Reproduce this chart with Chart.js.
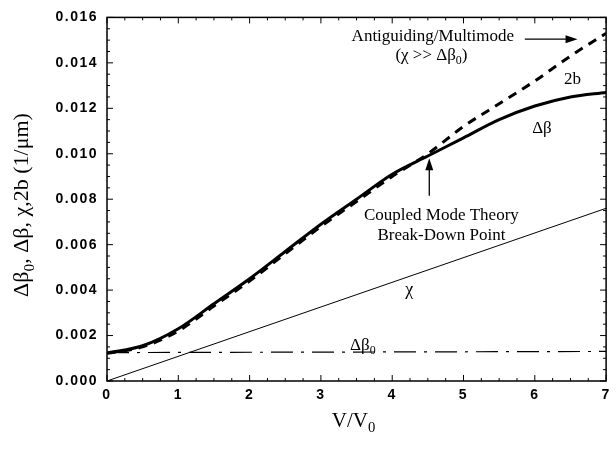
<!DOCTYPE html>
<html>
<head>
<meta charset="utf-8">
<script src="https://cdn.jsdelivr.net/npm/chart.js@4.4.0/dist/chart.umd.min.js"></script>
<style>
  html, body { margin: 0; padding: 0; background: #fff; }
  #wrap { width: 616px; height: 449px; }
</style>
</head>
<body>
<div id="wrap"><canvas id="chart" width="616" height="449"></canvas></div>
<script>
// values
const xValues = [0, 0.5, 1, 1.5, 2, 2.5, 3, 3.5, 4, 4.5, 5, 5.5, 6, 6.5, 7];
const deltaBeta = [0.00123, 0.00155, 0.0023, 0.0034, 0.0045, 0.0057, 0.0069, 0.0080, 0.0091, 0.0099, 0.0107, 0.0115, 0.0121, 0.0125, 0.0127];
const twoB = [0.00122, 0.0015, 0.0022, 0.0033, 0.0044, 0.0056, 0.0068, 0.0079, 0.0090, 0.01, 0.0112, 0.0122, 0.0132, 0.0143, 0.0153];
const chiX = [0, 7];
const chi = [0, 0.0076];
const deltaBeta0X = [0, 7];
const deltaBeta0 = [0.00125, 0.0013];

const xTicks = [0, 1, 2, 3, 4, 5, 6, 7];
const yTicks = [0, 0.002, 0.004, 0.006, 0.008, 0.010, 0.012, 0.014, 0.016];

const toPoints = (xs, ys) => xs.map((x, i) => ({ x: x, y: ys[i] }));

const SERIF = '"Liberation Serif", "Times New Roman", serif';
const SANS = '"Liberation Sans", Arial, sans-serif';

// draw text with a subscript part: parts = [[text, isSub], ...]
function drawRich(ctx, parts, x, y, size, align) {
  ctx.save();
  ctx.textBaseline = 'middle';
  ctx.textAlign = 'left';
  let total = 0;
  parts.forEach(([t, sub]) => {
    ctx.font = (sub ? size * 0.7 : size) + 'px ' + SERIF;
    total += ctx.measureText(t).width;
  });
  let cx = align === 'center' ? x - total / 2 : (align === 'right' ? x - total : x);
  parts.forEach(([t, sub]) => {
    ctx.font = (sub ? size * 0.7 : size) + 'px ' + SERIF;
    ctx.fillText(t, cx, sub ? y + size * 0.35 : y);
    cx += ctx.measureText(t).width;
  });
  ctx.restore();
}

function arrow(ctx, x1, y1, x2, y2) {
  const a = Math.atan2(y2 - y1, x2 - x1);
  ctx.save();
  ctx.strokeStyle = '#000';
  ctx.fillStyle = '#000';
  ctx.lineWidth = 1.3;
  ctx.beginPath();
  ctx.moveTo(x1, y1);
  ctx.lineTo(x2 - 8 * Math.cos(a), y2 - 8 * Math.sin(a));
  ctx.stroke();
  ctx.beginPath();
  ctx.moveTo(x2, y2);
  ctx.lineTo(x2 - 12 * Math.cos(a) + 4 * Math.sin(a), y2 - 12 * Math.sin(a) - 4 * Math.cos(a));
  ctx.lineTo(x2 - 12 * Math.cos(a) - 4 * Math.sin(a), y2 - 12 * Math.sin(a) + 4 * Math.cos(a));
  ctx.closePath();
  ctx.fill();
  ctx.restore();
}

const framePlugin = {
  id: 'frame',
  beforeDraw(chart) {
    // the tick labels in the original are widely tracked
    chart.ctx.letterSpacing = '1.5px';
  },
  beforeDatasetsDraw(chart) {
    chart.ctx.letterSpacing = '0px';
  },
  afterDraw(chart) {
    const { ctx, chartArea: a, scales } = chart;
    const xs = scales.x, ys = scales.y;
    ctx.letterSpacing = '0px';
    ctx.save();
    ctx.strokeStyle = '#000';
    ctx.lineWidth = 1.5;
    ctx.strokeRect(a.left, a.top, a.right - a.left, a.bottom - a.top);

    // inward ticks on all four sides
    ctx.lineWidth = 1;
    ctx.beginPath();
    for (let v = 0; v <= 7.0001; v += 0.25) {
      const px = xs.getPixelForValue(v);
      const len = Math.abs(v - Math.round(v)) < 1e-6 ? 6 : 3;
      ctx.moveTo(px, a.bottom); ctx.lineTo(px, a.bottom - len);
      ctx.moveTo(px, a.top); ctx.lineTo(px, a.top + len);
    }
    for (let i = 0; i <= 32; i++) {
      const v = i * 0.0005;
      const py = ys.getPixelForValue(v);
      const len = i % 4 === 0 ? 6 : 3;
      ctx.moveTo(a.left, py); ctx.lineTo(a.left + len, py);
      ctx.moveTo(a.right, py); ctx.lineTo(a.right - len, py);
    }
    ctx.stroke();
    ctx.restore();

    // axis titles
    ctx.save();
    ctx.fillStyle = '#000';
    ctx.translate(22, 205);
    ctx.rotate(-Math.PI / 2);
    drawRich(ctx, [['\u0394\u03B2', false], ['0', true], [', \u0394\u03B2, \u03C7,2b (1/\u03BCm)', false]], 0, 0, 22, 'center');
    ctx.restore();
    ctx.fillStyle = '#000';
    drawRich(ctx, [['V/V', false], ['0', true]], (a.left + a.right) / 2 - 3, 421, 21, 'center');

    // annotations in data coordinates
    const P = (x, y) => [xs.getPixelForValue(x), ys.getPixelForValue(y)];
    let p;
    p = P(4.57, 0.01517); drawRich(ctx, [['Antiguiding/Multimode', false]], p[0], p[1], 17, 'center');
    p = P(4.55, 0.01434); drawRich(ctx, [['(\u03C7 >> \u0394\u03B2', false], ['0', true], [')', false]], p[0], p[1], 17, 'center');
    const a1 = P(5.86, 0.01504), a2 = P(6.6, 0.01504);
    arrow(ctx, a1[0], a1[1], a2[0], a2[1]);
    p = P(6.53, 0.01328); drawRich(ctx, [['2b', false]], p[0], p[1], 17, 'center');
    p = P(6.10, 0.01109); drawRich(ctx, [['\u0394\u03B2', false]], p[0], p[1], 17, 'center');
    p = P(4.69, 0.00728); drawRich(ctx, [['Coupled Mode Theory', false]], p[0], p[1], 17, 'center');
    p = P(4.69, 0.00640); drawRich(ctx, [['Break-Down Point', false]], p[0], p[1], 17, 'center');
    const b1 = P(4.52, 0.00815), b2 = P(4.52, 0.0098);
    arrow(ctx, b1[0], b1[1], b2[0], b2[1]);
    p = P(4.24, 0.0040); drawRich(ctx, [['\u03C7', false]], p[0], p[1], 18, 'center');
    p = P(3.55, 0.00158); drawRich(ctx, [['\u0394\u03B2', false], ['0', true]], p[0] - 10, p[1], 17, 'left');
  }
};

new Chart(document.getElementById('chart'), {
  type: 'line',
  data: {
    datasets: [
      {
        label: 'Δβ',
        data: toPoints(xValues, deltaBeta),
        borderColor: '#000',
        borderWidth: 3,
        pointRadius: 0,
        cubicInterpolationMode: 'monotone'
      },
      {
        label: '2b',
        data: toPoints(xValues, twoB),
        borderColor: '#000',
        borderWidth: 3,
        borderDash: [9, 7],
        pointRadius: 0,
        cubicInterpolationMode: 'monotone'
      },
      {
        label: 'χ',
        data: toPoints(chiX, chi),
        borderColor: '#000',
        borderWidth: 1,
        pointRadius: 0
      },
      {
        label: 'Δβ0',
        data: toPoints(deltaBeta0X, deltaBeta0),
        borderColor: '#000',
        borderWidth: 1.2,
        borderDash: [22, 8, 3, 8],
        pointRadius: 0
      }
    ]
  },
  options: {
    responsive: false,
    animation: false,
    layout: { padding: { top: 16, right: 4, left: 0, bottom: 0 } },
    plugins: {
      legend: { display: false },
      tooltip: { enabled: false }
    },
    scales: {
      x: {
        type: 'linear',
        min: 0,
        max: 7,
        afterFit: s => { s.height = 68; },
        afterBuildTicks: s => { s.ticks = xTicks.map(v => ({ value: v })); },
        grid: { display: false, drawTicks: false },
        border: { display: false },
        ticks: {
          color: '#000',
          padding: 6,
          font: { family: SANS, size: 14, weight: 'bold' },
          callback: v => String(v)
        }
      },
      y: {
        type: 'linear',
        min: 0,
        max: 0.016,
        afterFit: s => { s.width = 107; },
        afterBuildTicks: s => { s.ticks = yTicks.map(v => ({ value: v })); },
        grid: { display: false, drawTicks: false },
        border: { display: false },
        ticks: {
          color: '#000',
          padding: 9,
          font: { family: SANS, size: 14, weight: 'bold' },
          callback: v => v.toFixed(3)
        }
      }
    }
  },
  plugins: [framePlugin]
});
</script>
</body>
</html>
